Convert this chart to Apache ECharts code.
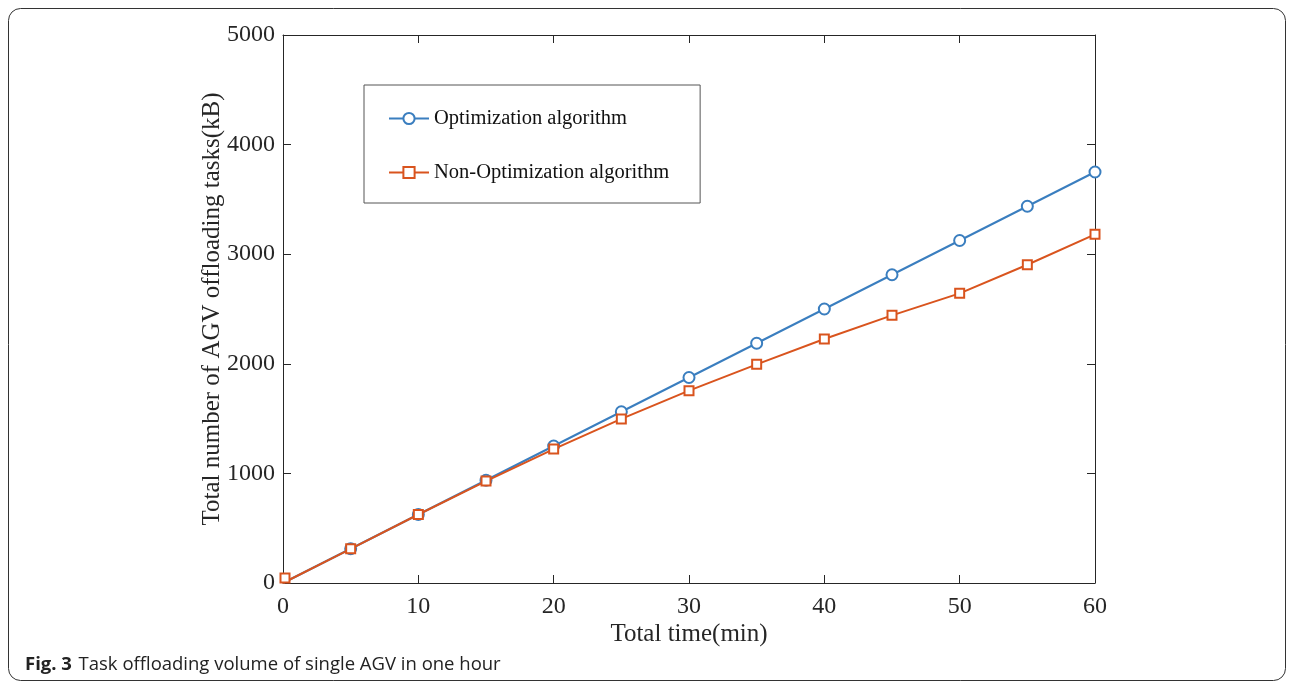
<!DOCTYPE html>
<html><head><meta charset="utf-8">
<script src="https://cdn.jsdelivr.net/npm/echarts@6/dist/echarts.min.js"></script>
<style>html,body{margin:0;padding:0;background:#fff}#c{width:1293px;height:685px}</style>
</head><body><div id="c"></div>
<script>
var times = [0, 5, 10, 15, 20, 25, 30, 35, 40, 45, 50, 55, 60];
var optimization = [0, 312.5, 625, 937.5, 1250, 1562.5, 1875, 2187.5, 2500, 2812.5, 3125, 3437.5, 3750];
var nonOptimization = [0, 312, 625, 930, 1222, 1497, 1755, 1995, 2226, 2442, 2643, 2904, 3181];
var seriesNames = ['Optimization algorithm', 'Non-Optimization algorithm'];
var xTicks = [0, 10, 20, 30, 40, 50, 60];
var yTicks = [0, 1000, 2000, 3000, 4000, 5000];

var serif = '"Liberation Serif", "Times New Roman", serif';
var axisColor = '#262626';
function pairs(ys, first) {
  return times.map(function (t, i) {
    var d = { value: [t, ys[i]] };
    if (i === 0 && first) Object.assign(d, first);
    return d;
  });
}
function plain(v) { return String(v); }
var chart = echarts.init(document.getElementById('c'));
function axis(extra) {
  return Object.assign({
    axisLine: { show: true, onZero: false, lineStyle: { color: axisColor, width: 1 } },
    axisTick: { show: true, inside: true, length: 8, lineStyle: { color: axisColor } },
    splitLine: { show: false },
    axisLabel: { show: false }
  }, extra);
}
chart.setOption({
  animation: false,
  backgroundColor: '#fff',
  grid: { left: 283, right: 198, top: 35, bottom: 102, containLabel: false },
  xAxis: [
    axis({
      type: 'value', min: xTicks[0], max: xTicks[xTicks.length - 1], interval: 10,
      position: 'bottom',
      name: 'Total time(min)', nameLocation: 'middle', nameGap: 39, nameMoveOverlap: false,
      nameTextStyle: { color: axisColor, fontFamily: serif, fontSize: 25 },
      axisLabel: { show: true, formatter: plain, color: axisColor, fontFamily: serif, fontSize: 24, margin: 12 }
    }),
    axis({
      type: 'value', min: xTicks[0], max: xTicks[xTicks.length - 1], interval: 10,
      position: 'top'
    })
  ],
  yAxis: [
    axis({
      type: 'value', min: yTicks[0], max: yTicks[yTicks.length - 1], interval: 1000,
      position: 'left',
      name: 'Total number of AGV offloading tasks(kB)', nameLocation: 'middle', nameGap: 58, nameMoveOverlap: false,
      nameTextStyle: { color: axisColor, fontFamily: serif, fontSize: 25 },
      axisLabel: { show: true, formatter: plain, color: axisColor, fontFamily: serif, fontSize: 24, margin: 8 }
    }),
    axis({
      type: 'value', min: yTicks[0], max: yTicks[yTicks.length - 1], interval: 1000,
      position: 'right'
    })
  ],
  legend: {
    orient: 'vertical', left: 364, top: 85,
    padding: [23, 31, 20, 24], itemGap: 33, itemWidth: 40, itemHeight: 14,
    backgroundColor: '#fff', borderColor: '#555', borderWidth: 1,
    textStyle: { color: '#111', fontFamily: serif, fontSize: 20.5, lineHeight: 20 },
    data: seriesNames
  },
  graphic: [
    { type: 'rect', shape: { x: 8.5, y: 8.5, width: 1277, height: 672, r: 12 }, style: { fill: 'none', stroke: '#333', lineWidth: 1 }, z: -1 },
    { type: 'text', left: 25, top: 655, style: {
      text: '{b|Fig. 3}  {n|Task offloading volume of single AGV in one hour}',
      rich: {
        b: { fontFamily: '"Open Sans", "Noto Sans", sans-serif', fontWeight: 'bold', fontSize: 18.5, fill: '#222' },
        n: { fontFamily: '"Open Sans", "Noto Sans", sans-serif', fontSize: 18.5, fill: '#222' }
      } } }
  ],
  series: [
    {
      name: seriesNames[0], type: 'line', data: pairs(optimization, { symbol: 'none' }),
      color: '#3a7ebf', lineStyle: { width: 2, color: '#3a7ebf' },
      symbol: 'emptyCircle', symbolSize: 11, itemStyle: { color: '#3a7ebf', borderWidth: 2 }, z: 2
    },
    {
      name: seriesNames[1], type: 'line', data: pairs(nonOptimization, { symbolOffset: [2, -5] }),
      color: '#d9541e', lineStyle: { width: 2, color: '#d9541e' },
      symbol: 'rect', symbolSize: 9, itemStyle: { color: '#fff', borderColor: '#d9541e', borderWidth: 2 }, z: 3
    }
  ]
});
</script></body></html>
